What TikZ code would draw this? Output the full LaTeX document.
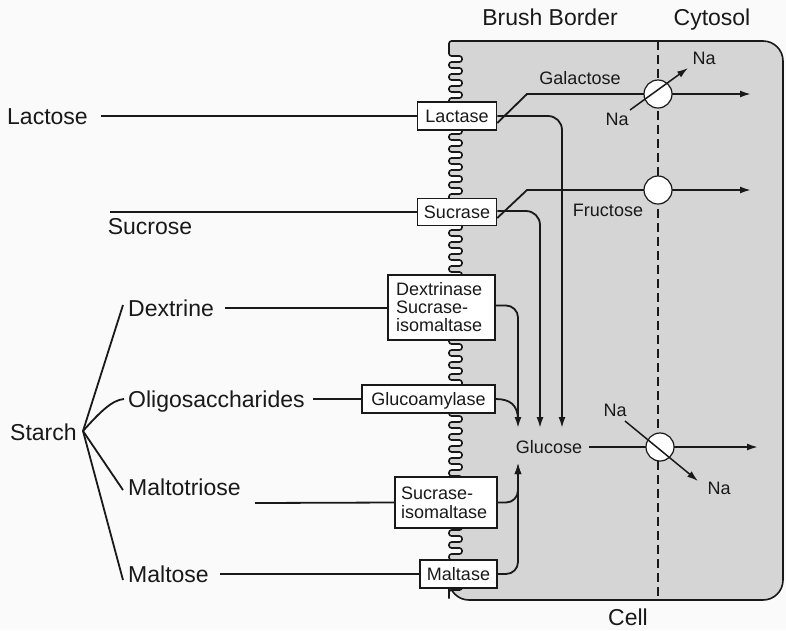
\documentclass[tikz,border=0pt]{standalone}
\usepackage{fontspec}
\setmainfont{Liberation Sans}
\usetikzlibrary{arrows.meta,calc}
\begin{document}
\begin{tikzpicture}[x=1pt,y=-1pt,
  ln/.style={line width=1.8pt, draw=black!90},
  arr/.style={ln, -{Latex[length=11pt,width=7pt]}},
  big/.style={font=\fontsize{23}{26}\selectfont, text=black!90, inner sep=2pt, text height=16.5pt, text depth=0pt},
  small/.style={font=\fontsize{18}{19}\selectfont, text=black!90, inner sep=2pt, text height=13pt, text depth=0pt},
  enz/.style={draw=black!90, line width=1.5pt, fill=white, text=black!90, font=\fontsize{18}{19}\selectfont, inner sep=2pt},
  enzone/.style={enz, text height=13pt, text depth=0pt},
  port/.style={circle, draw=black!90, line width=1.2pt, fill=white, minimum size=28pt, inner sep=0pt},
  membrane/.style={draw=black!90, line width=1.7pt, dash pattern=on 9pt off 5pt}]
\useasboundingbox (0,0) rectangle (786,630);
\fill[gray!4] (0,0) rectangle (786,630);

% cell with brush border
\filldraw[fill=gray!33, draw=black!90, line width=1.6pt, rounded corners=2.5pt]
  (449,600) \foreach \k in {0,...,44} { -- (449,{590-12*\k}) -- (462,{590-12*\k}) -- (462,{584-12*\k}) -- (449,{584-12*\k}) }
  -- (449,41) [rounded corners=20pt] -- (783,41) -- (783,600) -- (449,600) [rounded corners=2.5pt] -- cycle;
\draw[membrane] (658,41) -- (658,600);

% titles
\node[big] (bb) at (550,17) {Brush Border};
\node[big] (cyt) at (712,17) {Cytosol};
\node[big] (cell) at (628,617) {Cell};

% substrates
\node[big, anchor=west] (lactose) at (5,116) {Lactose};
\node[big] (sucrose) at (150,226) {Sucrose};
\node[big, anchor=west] (dextrine) at (126,308) {Dextrine};
\node[big, anchor=west] (oligo) at (126,399) {Oligosaccharides};
\node[big, anchor=west] (starch) at (8,432) {Starch};
\node[big, anchor=west] (maltotriose) at (126,487) {Maltotriose};
\node[big, anchor=west] (maltose) at (126,574) {Maltose};

% enzymes
\node[enzone, minimum width=79pt, minimum height=28pt] (lactase) at (457,116) {Lactase};
\node[enzone, minimum width=79pt, minimum height=27pt] (sucrase) at (457,212) {Sucrase};
\node[enz, minimum width=107pt, minimum height=65pt, text width=91pt, align=left] (dex) at (441.5,307.5) {Dextrinase\\[-1pt]Sucrase-\\[-1pt]isomaltase};
\node[enzone, minimum width=133pt, minimum height=28pt] (gluco) at (428.5,399) {Glucoamylase};
\node[enz, minimum width=102pt, minimum height=51pt, text width=90pt, align=left] (si) at (446,502.5) {Sucrase-\\isomaltase};
\node[enzone, minimum width=77pt, minimum height=28pt] (maltase) at (458.5,574) {Maltase};

% products
\node[small] (galactose) at (580,78) {Galactose};
\node[small] (fructose) at (608,210) {Fructose};
\node[small] (glucose) at (549,447) {Glucose};

% coordinates
\coordinate (hub) at (83,431);
\coordinate (sucstart) at (110,212);
\coordinate (mtstart) at (255,503);
\coordinate (galend) at (751,94);
\coordinate (fruend) at (751,190);
\coordinate (gluend) at (758,447);
\coordinate (g1) at (562,428);
\coordinate (g2) at (540,428);
\coordinate (g3) at (518,428);
\coordinate (g4) at (518,463);
\coordinate (naAs) at (630,110);
\coordinate (naAe) at (688,68);
\coordinate (naBs) at (625,421);
\coordinate (naBe) at (698,481);

% feeding lines
\draw[ln] ([xshift=11pt]lactose.east) -- (lactase.west);
\draw[ln] (sucstart) -- (sucrase.west);
\draw[ln] ([xshift=9pt]dextrine.east) -- (dextrine.east -| dex.west);
\draw[ln] ([xshift=6pt]oligo.east) -- (gluco.west);
\draw[ln] (mtstart) -- (si.west);
\draw[ln] ([xshift=9pt]maltose.east) -- (maltase.west);

% starch branches
\draw[ln] (hub) -- ([xshift=-3pt,yshift=3pt]dextrine.west);
\draw[ln] (hub) .. controls (100,412) and (112,400) .. ([xshift=-2pt]oligo.west);
\draw[ln] (hub) -- ([xshift=-3pt,yshift=-3pt]maltotriose.west);
\draw[ln] (hub) -- ([xshift=-3pt,yshift=-6pt]maltose.west);

% products from enzymes
\draw[arr] ([yshift=-7pt]lactase.east) -- (527,94) -- (galend);
\draw[arr] ([yshift=-6pt]sucrase.east) -- (527,190) -- (fruend);
\draw[arr, rounded corners=14pt] (lactase.east) -| (g1);
\draw[arr, rounded corners=14pt] ([yshift=1pt]sucrase.east) -| (g2);
\draw[arr, rounded corners=12pt] ([yshift=2pt]dex.east) -| (g3);
\draw[ln] (gluco.east) .. controls (510,399) and (518,405) .. (518,420);
\draw[arr, rounded corners=12pt] (si.east) -| (g4);
\draw[arr, rounded corners=12pt] (maltase.east) -| (g4);
\draw[arr] ([xshift=5pt]glucose.east) -- (gluend);

% transporters
\node[port] (pgal) at (658,94) {};
\node[port] (pfru) at (658,190) {};
\node[port] (pglu) at (660,447) {};

% sodium
\node[small] (naA1) at (617,119) {Na};
\node[small] (naA2) at (704,58) {Na};
\node[small] (naB1) at (615,410) {Na};
\node[small] (naB2) at (719,488) {Na};
\draw[arr, line width=1.5pt] (naAs) -- (naAe);
\draw[arr, line width=1.5pt] (naBs) -- (naBe);
\end{tikzpicture}
\end{document}
